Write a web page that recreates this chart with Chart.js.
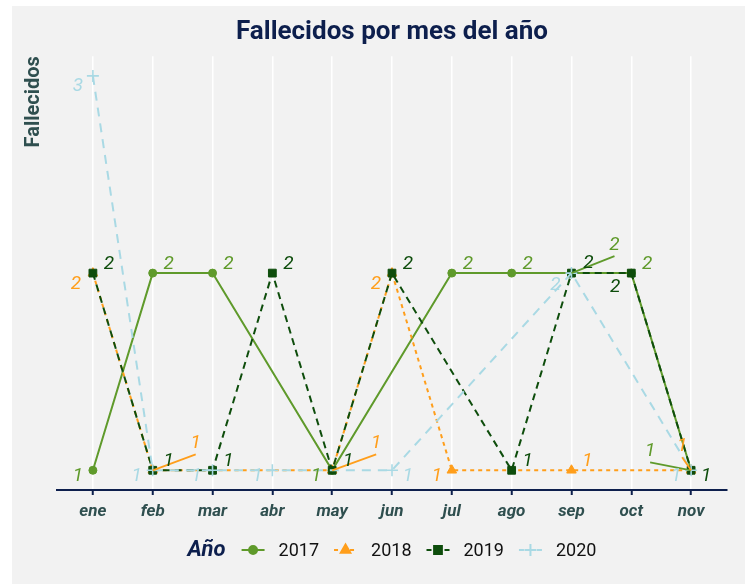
<!DOCTYPE html>
<html><head><meta charset="utf-8">
<script src="https://cdn.jsdelivr.net/npm/chart.js@4"></script>
<style>html,body{margin:0;padding:0;background:#fff}#wrap{width:745px;height:584px}</style>
</head><body><div id="wrap"><canvas id="c" width="745" height="584"></canvas></div>
<script>
// ---- data ----
const meses = ['ene','feb','mar','abr','may','jun','jul','ago','sep','oct','nov'];
const anios = ['2017','2018','2019','2020'];
const f2017 = [1,2,2,null,1,null,2,2,2,2,1];
const f2018 = [2,1,null,null,1,2,1,null,1,null,1];
const f2019 = [2,1,1,2,1,2,null,1,2,2,1];
const f2020 = [3,1,1,1,null,1,null,null,2,null,1];
const series = [f2017, f2018, f2019, f2020];

// ---- styles ----
const colores = ['#5f9a2b', '#ff9e1b', '#0e4d0c', '#a9d9e4'];
const dashes = [[], [4,4], [7,5], [9,7]];
const estilos = ['circle', 'triangle', 'rect', 'cross'];
const radios = [4, 5.5, 5.5, 6];
const navy = '#0d1f4d';
const slate = '#2f4f4f';

// label offsets (px) relative to points; third flag = leader segment
const defOff = [16, -9];
const labelOffsets = [
  {0:[-15,6], 4:[-16,6], 8:[43,-28,true], 10:[-41,-19,true]},
  {0:[-17,11], 1:[43,-27,true], 4:[44,-27,true], 5:[-16,11], 6:[-15,6], 10:[-9,-24,true]},
  {8:[17,-10], 9:[-16,14], 10:[15,6]},
  {0:[-15,10], 1:[-16,6], 2:[-16,6], 3:[-15,6], 5:[16,6], 8:[-16,12], 10:[-15,6]}
];

const datasets = series.map((s, k) => ({
  label: anios[k],
  data: s.map((v, i) => ({x: i, y: v})),
  borderColor: colores[k],
  backgroundColor: colores[k],
  borderWidth: 2,
  borderDash: dashes[k],
  pointStyle: estilos[k],
  pointRadius: radios[k],
  pointBorderWidth: k === 3 ? 1.6 : 1,
  pointBackgroundColor: colores[k],
  pointBorderColor: colores[k],
  spanGaps: true,
  order: 4 - k,
  tension: 0
}));

const bgPlugin = {
  id: 'bg',
  beforeDraw(chart) {
    const ctx = chart.ctx;
    ctx.save();
    ctx.fillStyle = '#ffffff';
    ctx.fillRect(0, 0, chart.width, chart.height);
    ctx.fillStyle = '#f2f2f2';
    ctx.fillRect(12, 6, chart.width - 12, chart.height - 6);
    ctx.restore();
  }
};

const labelPlugin = {
  id: 'labels',
  afterDatasetsDraw(chart) {
    const ctx = chart.ctx;
    ctx.save();
    ctx.font = 'italic 19px Roboto';
    ctx.textAlign = 'center';
    ctx.textBaseline = 'middle';
    chart.data.datasets.forEach((ds, k) => {
      const meta = chart.getDatasetMeta(k);
      series[k].forEach((v, i) => {
        if (v === null) return;
        const el = meta.data[i];
        const o = labelOffsets[k][i] || defOff;
        const lx = el.x + o[0], ly = el.y + o[1];
        ctx.fillStyle = colores[k];
        ctx.strokeStyle = colores[k];
        if (o[2]) {
          ctx.lineWidth = 1.8;
          ctx.setLineDash([]);
          ctx.beginPath();
          ctx.moveTo(el.x, el.y);
          ctx.lineTo(lx, ly + 11);
          ctx.stroke();
        }
        ctx.fillText(String(v), lx, ly);
      });
    });
    ctx.restore();
  }
};

const legendPlugin = {
  id: 'customLegend',
  afterDraw(chart) {
    const ctx = chart.ctx;
    const ca = chart.chartArea;
    const y = 550;
    ctx.save();
    const titleFont = 'italic bold 22px Roboto';
    const itemFont = '18px Roboto';
    ctx.font = titleFont;
    const tw = ctx.measureText('Año').width;
    ctx.font = itemFont;
    const symW = 23, g1 = 16, g2 = 14, g3 = 15;
    const widths = anios.map(a => ctx.measureText(a).width);
    let total = tw;
    widths.forEach((w, k) => { total += (k === 0 ? g1 : g3) + symW + g2 + w; });
    let x = (ca.left + ca.right) / 2 - total / 2;
    ctx.textBaseline = 'middle';
    ctx.textAlign = 'left';
    ctx.font = titleFont;
    ctx.fillStyle = navy;
    ctx.fillText('Año', x, y);
    x += tw;
    anios.forEach((a, k) => {
      x += (k === 0 ? g1 : g3);
      ctx.strokeStyle = colores[k];
      ctx.fillStyle = colores[k];
      ctx.lineWidth = 2;
      ctx.setLineDash(dashes[k].length ? [Math.min(dashes[k][0], 5), 4] : []);
      ctx.beginPath();
      ctx.moveTo(x, y);
      ctx.lineTo(x + symW, y);
      ctx.stroke();
      ctx.setLineDash([]);
      Chart.helpers.drawPoint(ctx, {pointStyle: estilos[k], radius: radios[k], rotation: 0, borderWidth: k === 3 ? 1.6 : 1}, x + symW / 2, y);
      if (k !== 3) { ctx.fill(); }
      x += symW + g2;
      ctx.font = itemFont;
      ctx.fillStyle = '#111111';
      ctx.fillText(a, x, y + 1);
      x += widths[k];
    });
    ctx.restore();
  }
};

new Chart(document.getElementById('c'), {
  type: 'line',
  data: { datasets },
  options: {
    responsive: false,
    devicePixelRatio: 1,
    animation: false,
    layout: { padding: { left: 0, right: 18, top: 0, bottom: 64 } },
    plugins: {
      legend: { display: false },
      tooltip: { enabled: false },
      title: {
        display: true,
        text: 'Fallecidos por mes del año',
        fullSize: false,
        color: navy,
        font: { family: 'Roboto', size: 26, weight: 'bold' },
        padding: { top: 17, bottom: 8 }
      }
    },
    scales: {
      x: {
        type: 'linear',
        min: -0.6,
        max: 10.6,
        afterFit(s) { s.height = 30; },
        afterBuildTicks(s) { s.ticks = meses.map((m, i) => ({ value: i })); },
        ticks: {
          stepSize: 1,
          includeBounds: false,
          autoSkip: false,
          maxRotation: 0,
          padding: 7,
          color: slate,
          font: { family: 'Roboto', size: 17, weight: 'bold', style: 'italic' },
          callback: (v) => meses[v]
        },
        grid: {
          color: '#ffffff',
          lineWidth: 1.5,
          drawTicks: true,
          tickLength: 5,
          tickColor: navy,
          tickWidth: 2
        },
        border: { display: true, color: navy, width: 2 }
      },
      y: {
        type: 'linear',
        min: 0.9,
        max: 3.1,
        afterFit(s) { s.width = 57; },
        ticks: { display: false },
        grid: { display: false, drawTicks: false },
        border: { display: false },
        title: {
          display: true,
          text: 'Fallecidos',
          align: 'end',
          color: slate,
          font: { family: 'Roboto', size: 20, weight: 'bold' },
          padding: { top: 22, bottom: 0 }
        }
      }
    }
  },
  plugins: [bgPlugin, labelPlugin, legendPlugin]
});
</script>
</body></html>
